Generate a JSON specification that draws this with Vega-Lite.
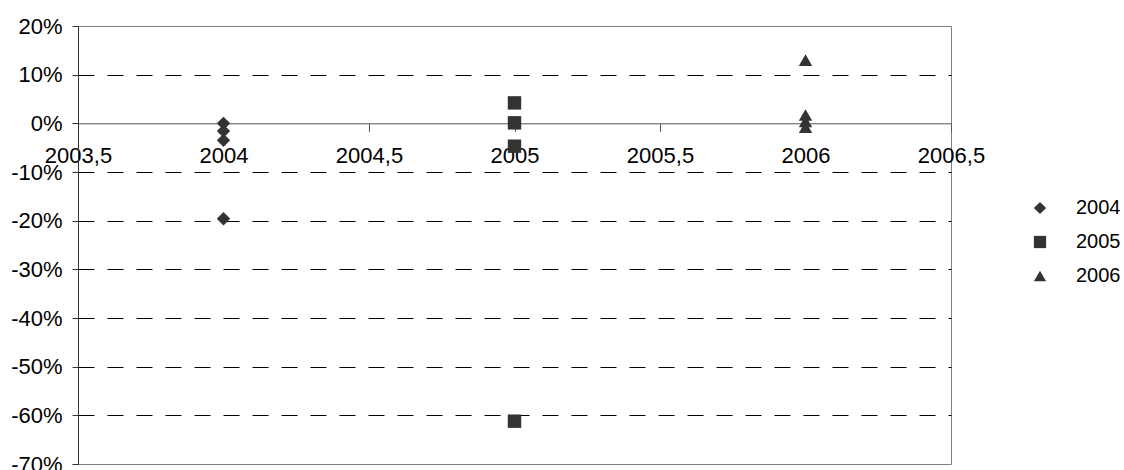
{
  "$schema": "https://vega.github.io/schema/vega-lite/v6.json",
  "width": 873,
  "height": 438,
  "autosize": {"type": "none"},
  "padding": {"left": 78, "top": 26, "right": 173, "bottom": 6},
  "background": "white",
  "config": {
    "view": {"stroke": "#808080", "strokeWidth": 1},
    "font": "Liberation Sans",
    "axis": {"labelFont": "Liberation Sans", "labelColor": "#000", "titleFont": "Liberation Sans"},
    "legend": {"labelFont": "Liberation Sans"}
  },
  "data": {
    "values": [
      {"year": 2004, "series": "2004", "value": 0.0},
      {"year": 2004, "series": "2004", "value": -0.016},
      {"year": 2004, "series": "2004", "value": -0.035},
      {"year": 2004, "series": "2004", "value": -0.196},
      {"year": 2005, "series": "2005", "value": 0.042},
      {"year": 2005, "series": "2005", "value": 0.001},
      {"year": 2005, "series": "2005", "value": -0.047},
      {"year": 2005, "series": "2005", "value": -0.612},
      {"year": 2006, "series": "2006", "value": 0.13},
      {"year": 2006, "series": "2006", "value": 0.017},
      {"year": 2006, "series": "2006", "value": 0.004},
      {"year": 2006, "series": "2006", "value": -0.008}
    ]
  },
  "mark": {"type": "point", "filled": true, "opacity": 1, "color": "#333333", "size": 180},
  "encoding": {
    "x": {
      "field": "year",
      "type": "quantitative",
      "scale": {"domain": [2003.5, 2006.5], "nice": false, "zero": false},
      "axis": {
        "title": null,
        "offset": -340.7,
        "values": [2003.5, 2004, 2004.5, 2005, 2005.5, 2006, 2006.5],
        "labelExpr": "replace(toString(datum.value), '.', ',')",
        "labelFontSize": 22,
        "labelPadding": 14,
        "labelFlush": false,
        "labelOverlap": false,
        "tickSize": 8,
        "tickColor": "#555555",
        "domainColor": "#555555",
        "grid": false
      }
    },
    "y": {
      "field": "value",
      "type": "quantitative",
      "scale": {"domain": [-0.7, 0.2], "nice": false, "zero": false},
      "axis": {
        "title": null,
        "values": [-0.7, -0.6, -0.5, -0.4, -0.3, -0.2, -0.1, 0, 0.1, 0.2],
        "labelExpr": "round(datum.value*100) + '%'",
        "labelFontSize": 22,
        "labelPadding": 10,
        "labelFlush": false,
        "labelOverlap": false,
        "tickSize": 6,
        "tickColor": "#333333",
        "domainColor": "#333333",
        "grid": true,
        "gridColor": "#000000",
        "gridDash": [16, 13],
        "gridWidth": 1,
        "gridOpacity": {"condition": {"test": "datum.value > 0.15 || datum.value < -0.65 || abs(datum.value) < 0.001", "value": 0}, "value": 1}
      }
    },
    "shape": {
      "field": "series",
      "type": "nominal",
      "scale": {"domain": ["2004", "2005", "2006"], "range": ["diamond", "square", "triangle-up"]},
      "legend": {
        "title": null,
        "orient": "none",
        "legendX": 952,
        "legendY": 172,
        "padding": 0,
        "symbolSize": 150,
        "symbolFillColor": "#333333",
        "symbolStrokeColor": "#333333",
        "symbolStrokeWidth": 0,
        "labelFontSize": 20,
        "labelOffset": 26,
        "rowPadding": 14,
        "labelColor": "#000"
      }
    }
  }
}
